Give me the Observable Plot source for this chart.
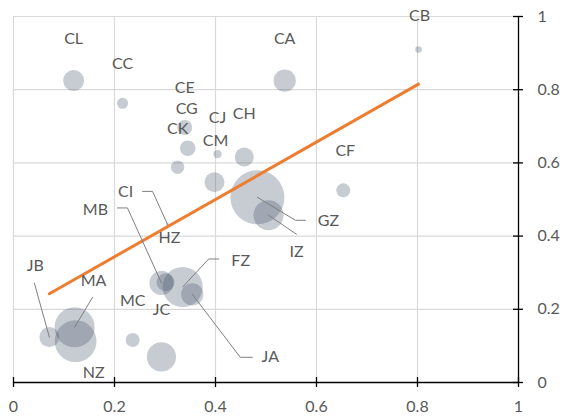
<!DOCTYPE html>
<html><head><meta charset="utf-8">
<script src="https://cdn.jsdelivr.net/npm/d3@7"></script>
<script src="https://cdn.jsdelivr.net/npm/@observablehq/plot@0.6"></script>
<style>html,body{margin:0;padding:0;background:#fff;}</style>
</head><body><div id="chart"></div>
<script>
// ---- data ----
const names   = ["CL","CC","CA","CB","CE","CG","CK","CJ","CH","CM","CF","GZ","IZ","CI","HZ","MB","FZ","JA","JC","MC","JB","MA","NZ"];
const xValues = [0.119,0.216,0.537,0.802,0.339,0.345,0.325,0.404,0.457,0.398,0.653,0.483,0.505,0.305,0.301,0.293,0.335,0.354,0.293,0.236,0.071,0.121,0.123];
const yValues = [0.825,0.763,0.825,0.910,0.697,0.640,0.588,0.624,0.616,0.547,0.525,0.506,0.457,0.432,0.274,0.272,0.261,0.241,0.070,0.116,0.124,0.151,0.113];
const sizes   = [15,4.2,17,1.5,7.7,8.4,6.1,2.4,12.4,13.7,6.7,100,31,0.3,11,20,55,17,29,6.7,13.7,55,60];
const xTicks = [0,0.2,0.4,0.6,0.8,1];
const yTicks = [0,0.2,0.4,0.6,0.8,1];

// ---- label layout: pixel offsets of each label from its bubble ----
const labelOffsets = {
  CL:[0,-42], CC:[0,-39], CA:[0,-42], CB:[1,-34], CE:[0,-40], CG:[-1,-39], CK:[0,-38],
  CJ:[0,-36], CH:[0,-43], CM:[1,-41], CF:[2,-39], GZ:[71,24], IZ:[28,37], CI:[-42,-33],
  HZ:[4,-44], MB:[-66,-73], FZ:[58,-26], JA:[78,63], JC:[0,-47], MC:[0,-39], JB:[-14,-71],
  MA:[19,-46], NZ:[18,32]
};
// leader lines: pixel offsets (elbow, end) from the bubble
const leaders = {
  CI:[[-15,-33],[-25,-33]], MB:[[-34,-75],[-44,-75]], FZ:[[26,-28],[36,-28]],
  JA:[[48,63],[60,63]], GZ:[[38,23],[48,23]], IZ:[[28,19]], JB:[[-15,-54]], MA:[[18,-30]]
};

const W=568, H=419, ML=13, MR=50, MT=16, MB=37;
const kx = (W-ML-MR), ky = (H-MT-MB);
const data = names.map((n,i)=>({name:n, x:xValues[i], y:yValues[i], size:sizes[i]}));
const labels = data.map(d=>({name:d.name, x:d.x + labelOffsets[d.name][0]/kx, y:d.y - labelOffsets[d.name][1]/ky}));
const leaderPts = [];
for (const d of data) {
  if (!leaders[d.name]) continue;
  leaderPts.push({name:d.name, x:d.x, y:d.y});
  for (const [dx,dy] of leaders[d.name]) leaderPts.push({name:d.name, x:d.x+dx/kx, y:d.y-dy/ky});
}
const fmt = d => String(+d.toFixed(2));

const chart = Plot.plot({
  width: W, height: H, marginLeft: ML, marginRight: MR, marginTop: MT, marginBottom: MB,
  style: {fontFamily: "Lato, 'Open Sans', sans-serif", fontSize: "16px", color: "#595959", background: "#fff"},
  x: {domain:[0,1], ticks: xTicks, tickSize: 0, tickPadding: 18, tickFormat: fmt, label: null},
  y: {domain:[0,1], ticks: yTicks, axis: "right", tickSize: 0, tickPadding: 19, tickFormat: fmt, label: null},
  r: {type:"sqrt", domain:[0,100], range:[0,27]},
  marks: [
    Plot.ruleX(xTicks.filter(t=>t<1), {stroke:"#d9d9d9", strokeWidth:1.2}),
    Plot.ruleY(yTicks.filter(t=>t>0), {stroke:"#d9d9d9", strokeWidth:1.2}),
    Plot.dot(data, {x:"x", y:"y", r:"size", fill:"#44546A", fillOpacity:0.3}),
    Plot.linearRegressionY(data, {x:"x", y:"y", stroke:"#ED7D31", strokeWidth:3, ci:0}),
    Plot.line(leaderPts, {x:"x", y:"y", z:"name", stroke:"#7f7f7f", strokeWidth:1}),
    Plot.text(labels, {x:"x", y:"y", text:"name", fill:"#595959", fontSize:16}),
    Plot.ruleY([0], {stroke:"#000", strokeWidth:1.3}),
    Plot.ruleX([1], {stroke:"#000", strokeWidth:1.3}),
    Plot.ruleX(xTicks, {y1:0, y2:0, insetTop:-5, insetBottom:-5, stroke:"#000", strokeWidth:1.3}),
    Plot.ruleY(yTicks, {x1:1, x2:1, insetLeft:-5, insetRight:-5, stroke:"#000", strokeWidth:1.3})
  ]
});
document.getElementById("chart").appendChild(chart);
</script>
</body></html>
